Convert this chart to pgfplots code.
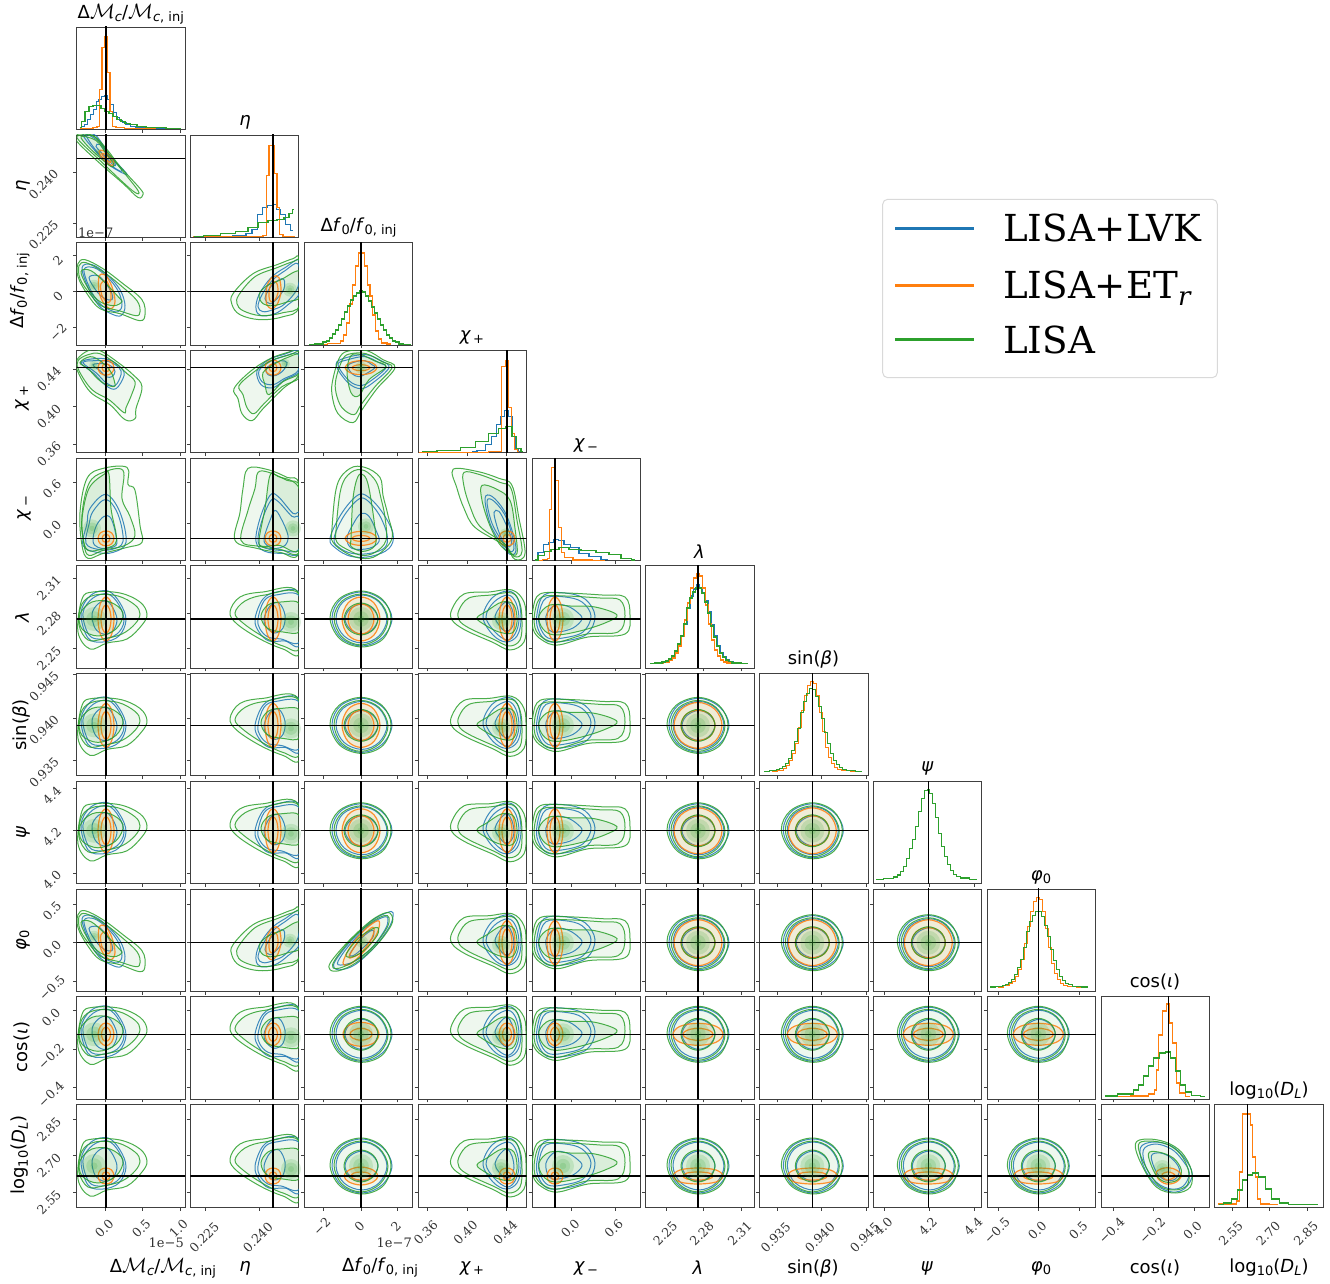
\documentclass[border=0pt]{standalone}
\usepackage{fontspec}
\setmainfont{DejaVu Sans}
\newfontfamily\serf{DejaVu Serif}
\usepackage{pgfplots}
\pgfplotsset{compat=1.18}
\definecolor{cb}{HTML}{1F77B4}
\definecolor{co}{HTML}{FF7F0E}
\definecolor{cg}{HTML}{2CA02C}
\DeclareMathSizes{18}{20}{13}{10}
\newcommand\sub[1]{\raisebox{-3pt}{\fontsize{13}{13}\selectfont #1}}

% every panel is in pixels of the reference, measured from the injected value (the black cross)
\pgfplotsset{base/.style={anchor=south west, scale only axis, width=108.6pt, height=102.3pt,
  axis line style={black!75,line width=.9pt}, every tick/.style={black!75,line width=.8pt},
  tick align=outside, major tick length=3.5pt, xtick pos=lower, ytick pos=left,
  minor tick num=0, scaled ticks=false, no markers,
  tick label style={font=\serf\fontsize{12.5}{13}\selectfont, text=black!80}},
  ln/.style={line width=1pt, smooth cycle, tension=.6, opacity=.85},
  hs/.style={line width=1.3pt, const plot mark mid},
  fl/.style={draw=none, smooth cycle, tension=.6, fill=cg},
  blob/.style={only marks, mark=*, mark size=#1, mark options={draw=cg,draw opacity=0,fill=cg,fill opacity=.16}}}

% column: left edge, limits, ticks, labels, label drop
\newcommand\loadcol[1]{\ifcase#1
 \def\xl{76.5}\def\xa{-29.5}\def\xb{79.1}\def\xt{-0.3,36.7,74}\def\xtl{0.0,0.5,1.0}\def\xs{18}\or
 \def\xl{190.3}\def\xa{-82.7}\def\xb{25.9}\def\xt{-67.3,-13.7}\def\xtl{0.225,0.240}\def\xs{27}\or
 \def\xl{304.3}\def\xa{-56.7}\def\xb{51.9}\def\xt{-37.7,0,36.3}\def\xtl{−2,0,2}\def\xs{16}\or
 \def\xl{418}\def\xa{-89}\def\xb{19.6}\def\xt{-79.7,-40,-0.3}\def\xtl{0.36,0.40,0.44}\def\xs{22}\or
 \def\xl{532}\def\xa{-23}\def\xb{85.6}\def\xt{16.7,60.3}\def\xtl{0.0,0.6}\def\xs{18}\or
 \def\xl{645.7}\def\xa{-52.3}\def\xb{56.3}\def\xt{-31.3,5.3,43.3}\def\xtl{2.25,2.28,2.31}\def\xs{23}\or
 \def\xl{759.7}\def\xa{-52.6}\def\xb{56}\def\xt{-35.3,9,54}\def\xtl{0.935,0.940,0.945}\def\xs{27}\or
 \def\xl{873.3}\def\xa{-55}\def\xb{53.6}\def\xt{-43.6,1,46.4}\def\xtl{4.0,4.2,4.4}\def\xs{16}\or
 \def\xl{987.3}\def\xa{-51}\def\xb{57.6}\def\xt{-40,0.4,41.4}\def\xtl{−0.5,0.0,0.5}\def\xs{20}\or
 \def\xl{1101}\def\xa{-67.3}\def\xb{41.3}\def\xt{-55.3,-14.6,25.7}\def\xtl{−0.4,−0.2,0.0}\def\xs{20}\or
 \def\xl{1214.7}\def\xa{-33}\def\xb{75.6}\def\xt{-15.4,22,59.6}\def\xtl{2.55,2.70,2.85}\def\xs{23}\fi}
% row: bottom edge, limits, ticks, labels, label shifts, height of the horizontal line
\newcommand\loadrow[1]{\ifcase#1
 \def\yb{1153.7}\or
 \def\yb{1045.7}\def\ya{-78.8}\def\yz{23.5}\def\yt{-64.6,-14}\def\ytl{0.225,0.240}\def\yx{-29.5}\def\yy{-12}\def\tl{0}\or
 \def\yb{938}\def\ya{-53.3}\def\yz{49}\def\yt{-35.6,0,36}\def\ytl{−2,0,2}\def\yx{-15}\def\yy{-5}\def\tl{0}\or
 \def\yb{830.3}\def\ya{-85}\def\yz{17.3}\def\yt{-76.3,-39,-1.3}\def\ytl{0.36,0.40,0.44}\def\yx{-24}\def\yy{-10}\def\tl{0}\or
 \def\yb{722.3}\def\ya{-22.3}\def\yz{80}\def\yt{15.3,56.3}\def\ytl{0.0,0.6}\def\yx{-21}\def\yy{-7}\def\tl{0}\or
 \def\yb{615}\def\ya{-49}\def\yz{53.3}\def\yt{-29.6,5.7,41}\def\ytl{2.25,2.28,2.31}\def\yx{-24}\def\yy{-10}\def\tl{0}\or
 \def\yb{507.3}\def\ya{-50.3}\def\yz{52}\def\yt{-35.3,7.3,51}\def\ytl{0.935,0.940,0.945}\def\yx{-29}\def\yy{-12}\def\tl{0}\or
 \def\yb{399.5}\def\ya{-52.7}\def\yz{49.6}\def\yt{-42.3,0.7,42.3}\def\ytl{4.0,4.2,4.4}\def\yx{-21}\def\yy{-7}\def\tl{0}\or
 \def\yb{291.7}\def\ya{-48.6}\def\yz{53.7}\def\yt{-38.3,0,38.7}\def\ytl{−0.5,0.0,0.5}\def\yx{-21}\def\yy{-7}\def\tl{0}\or
 \def\yb{184}\def\ya{-64.7}\def\yz{37.6}\def\yt{-53,-15,23.6}\def\ytl{−0.4,−0.2,0.0}\def\yx{-22}\def\yy{-7}\def\tl{0}\or
 \def\yb{76}\def\ya{-41}\def\yz{61.3}\def\yt{-26,10.4,46.4}\def\ytl{2.55,2.70,2.85}\def\yx{-24}\def\yy{-10}\def\tl{-10}\fi}

% contours: green outer, middle, inner, blue outer, middle, inner, density peak, peak radius
\def\gCC{{(-31,1)(-22,20)(0,28)(21,20)(30,1)(22,-20)(1,-28)(-21,-20)}{(-27,1)(-19,18)(0,25)(18,18)(27,0)(19,-18)(0,-26)(-19,-18)}{(-17,0)(-12,11)(0,16)(12,11)(17,0)(12,-11)(0,-16)(-12,-11)}{(-29,1)(-20,20)(2,27)(22,18)(31,0)(21,-19)(1,-27)(-20,-19)}{(-25,0)(-18,17)(1,24)(18,17)(26,0)(18,-17)(1,-24)(-17,-17)}{(-16,0)(-11,10)(1,15)(12,10)(17,0)(11,-11)(0,-15)(-11,-10)}{(0,0)}{12}}
\def\gCMc{{(-28,-13)(-24,20)(-13,27)(14,26)(34,17)(41,5)(36,-6)(21,-20)(1,-24)(-16,-30)}{(-27,-6)(-24,15)(-11,24)(12,23)(29,14)(34,5)(29,-5)(16,-15)(-3,-20)(-18,-21)}{(-26,5)(-14,17)(4,17)(17,6)(10,-10)(-8,-17)(-24,-10)}{(-25,6)(-15,24)(2,28)(14,16)(20,-1)(13,-17)(-3,-23)(-18,-19)}{(-23,6)(-13,21)(2,25)(13,14)(18,-2)(11,-15)(-4,-20)(-17,-16)}{(-14,5)(-8,15)(1,18)(8,9)(11,-2)(6,-13)(-3,-15)(-11,-9)}{(-12,0)}{12}}
\def\gCE{{(-43,7)(-33,22)(-10,27)(25,27)(27,-33)(10,-30)(-13,-20)(-36,-5)}{(-38,6)(-28,18)(-8,24)(26,25)(27,-28)(10,-27)(-11,-17)(-30,-4)}{(-12,3)(-5,14)(8,17)(27,15)(27,-12)(10,-13)(-6,-9)}{(-18,0)(-10,20)(4,27)(27,25)(27,-25)(12,-22)(-4,-22)(-14,-13)}{(-15,0)(-9,18)(3,24)(27,22)(27,-22)(8,-20)(-5,-18)(-13,-10)}{(-9,0)(-3,13)(6,16)(12,4)(10,-9)(2,-14)(-6,-9)}{(18,-3)}{10}}
\def\gCP{{(-55,10)(-43,25)(-18,27)(5,29)(17,17)(19,-3)(17,-23)(3,-31)(-15,-23)(-42,-11)(-55,-1)}{(-48,9)(-38,21)(-16,24)(5,26)(13,15)(15,-3)(13,-21)(2,-27)(-14,-20)(-38,-9)(-48,-1)}{(-30,1)(-20,8)(-5,17)(7,14)(10,-3)(5,-14)(-8,-13)(-22,-6)}{(-24,2)(-15,21)(1,28)(11,20)(14,-1)(10,-17)(-1,-23)(-14,-16)}{(-21,2)(-13,17)(1,24)(9,16)(12,-1)(8,-15)(0,-21)(-12,-13)}{(-12,2)(-7,12)(0,17)(5,10)(7,-2)(4,-10)(-2,-12)(-8,-6)}{(-6,-2)}{9}}
\def\gCM{{(-22,10)(-15,25)(10,26)(47,24)(70,22)(75,4)(70,-15)(33,-18)(3,-26)(-13,-21)(-22,-10)}{(-20,8)(-13,22)(10,23)(45,21)(65,19)(70,3)(63,-13)(32,-15)(3,-23)(-12,-19)(-20,-9)}{(-16,3)(-5,14)(15,13)(40,12)(62,4)(50,-4)(25,-12)(0,-16)(-12,-10)}{(-18,5)(-11,24)(10,26)(30,20)(40,3)(32,-15)(10,-22)(-8,-22)(-17,-10)}{(-16,5)(-9,21)(10,22)(27,17)(36,3)(28,-13)(8,-19)(-7,-19)(-15,-8)}{(-9,3)(0,14)(12,13)(22,7)(27,0)(18,-9)(3,-13)(-6,-11)}{(8,0)}{11}}
\def\gDI{{(-33,22)(-22,27)(-3,24)(13,14)(23,-4)(22,-21)(7,-27)(-12,-21)(-27,2)}{(-30,21)(-20,25)(-2,22)(12,12)(20,-4)(19,-19)(6,-24)(-10,-19)(-24,2)}{(-20,12)(-10,14)(5,8)(13,-4)(9,-14)(-3,-16)(-13,-8)}{(-28,18)(-15,24)(3,20)(16,8)(24,-8)(17,-22)(4,-26)(-12,-19)(-24,-2)}{(-25,16)(-13,22)(3,17)(14,6)(21,-7)(15,-20)(3,-23)(-11,-17)(-22,-2)}{(-17,10)(-8,13)(3,8)(11,-3)(7,-13)(-3,-14)(-12,-6)}{(-6,-3)}{9}}
\def\gPhiF{{(-31,-27)(-30,-19)(-12,2)(10,22)(25,30)(31,27)(30,17)(15,-3)(-5,-20)(-22,-28)}{(-28,-25)(-26,-17)(-10,3)(10,20)(23,27)(28,25)(26,15)(12,-4)(-6,-18)(-20,-25)}{(-15,-12)(-3,4)(10,13)(17,15)(16,7)(4,-7)(-8,-14)}{(-27,-25)(-25,-17)(-9,3)(11,22)(26,30)(32,30)(29,17)(13,-5)(-6,-22)(-20,-27)}{(-23,-22)(-19,-12)(-6,4)(10,19)(24,26)(27,23)(24,13)(10,-6)(-7,-19)}{(-11,-11)(0,4)(10,12)(13,11)(11,4)(0,-7)(-8,-13)}{(1,1)}{6}}
\def\gEMc{{(-29,24)(-29,17)(-6,-5)(17,-25)(32,-39)(37,-36)(34,-30)(14,-8)(1,9)(-13,23)}{(-27,23)(-27,18)(-6,-2)(15,-22)(29,-34)(32,-32)(13,-8)(0,8)(-12,22)}{(-25,22)(-18,12)(-5,0)(5,-8)(8,-6)(0,5)(-10,18)}{(-23,24)(-12,9)(4,-7)(20,-16)(18,-12)(4,3)(-6,18)(-12,24)}{(-20,24)(-10,8)(4,-6)(15,-13)(14,-9)(3,3)(-6,16)}{(-10,12)(0,1)(8,-7)(9,-5)(1,5)(-6,14)}{(-8,6)}{4}}
\def\gFMc{{(-28,28)(-21,32)(-3,23)(17,8)(36,-8)(39,-23)(34,-29)(14,-22)(-6,-17)(-19,-2)(-28,15)}{(-27,26)(-20,29)(-3,20)(15,6)(31,-9)(34,-20)(30,-24)(13,-19)(-5,-14)(-17,-1)(-26,13)}{(-25,20)(-15,21)(0,8)(13,-6)(16,-10)(8,-14)(-6,-10)(-17,2)}{(-24,24)(-14,27)(0,18)(14,2)(19,-14)(15,-24)(5,-22)(-7,-14)(-17,2)}{(-22,22)(-12,24)(1,15)(12,1)(16,-13)(12,-20)(3,-18)(-7,-11)(-16,3)}{(-17,14)(-8,16)(0,8)(6,-2)(6,-8)(-1,-7)(-9,0)}{(-12,6)}{6}}
\def\gFE{{(-41,-13)(-40,-2)(-20,18)(4,27)(20,33)(26,32)(26,-15)(10,-25)(-13,-28)(-33,-23)}{(-36,-12)(-34,-3)(-18,15)(4,24)(20,30)(27,29)(27,-13)(10,-21)(-12,-24)(-30,-19)}{(-14,-3)(-6,6)(8,12)(22,20)(27,18)(27,-5)(15,-10)(0,-14)(-10,-12)}{(-17,-17)(-14,-3)(-2,14)(12,24)(27,31)(27,0)(15,-13)(2,-22)(-12,-24)}{(-15,-15)(-11,-3)(-1,11)(12,21)(25,28)(25,5)(12,-12)(0,-18)(-10,-20)}{(-8,-7)(-3,4)(6,12)(11,12)(11,3)(4,-7)(-3,-12)}{(17,2)}{7}}
\def\gPMc{{(-29,8)(-29,-2)(-16,-24)(4,-37)(19,-52)(29,-51)(30,-41)(36,-19)(27,-7)(11,6)(-6,17)(-18,17)}{(-28,7)(-27,-3)(-14,-22)(3,-32)(18,-45)(20,-40)(26,-26)(29,-14)(20,-5)(10,4)(-6,14)(-18,13)}{(-26,5)(-18,-1)(-5,-14)(8,-19)(8,-12)(4,-3)(-6,7)(-16,11)}{(-25,5)(-12,-6)(0,-18)(10,-21)(18,-8)(15,0)(3,8)(-12,9)}{(-23,5)(-10,-5)(0,-15)(9,-18)(15,-7)(13,0)(3,6)(-11,7)}{(-13,3)(-6,-3)(0,-9)(6,-9)(9,-4)(6,1)(-2,4)}{(-12,2)}{5}}
\def\gPE{{(-39,-21)(-23,-4)(-3,9)(17,16)(26,18)(26,-7)(10,-21)(-10,-41)(-21,-53)(-31,-46)(-35,-31)}{(-34,-18)(-20,-5)(-2,7)(17,13)(27,15)(27,-9)(9,-19)(-9,-36)(-19,-46)(-26,-40)(-30,-27)}{(-10,-5)(2,4)(14,10)(27,13)(27,-5)(10,-14)(-4,-27)(-8,-17)}{(-16,-3)(-4,8)(10,13)(27,17)(27,-3)(12,-12)(0,-20)(-12,-17)}{(-14,-3)(-3,6)(10,11)(25,14)(25,-3)(11,-11)(0,-17)(-11,-14)}{(-7,-1)(0,4)(8,7)(14,5)(10,-3)(2,-8)(-5,-7)}{(12,4)}{5}}
\def\gPF{{(-28,-11)(-21,11)(-11,17)(6,17)(22,8)(34,0)(16,-21)(1,-42)(-8,-55)(-23,-46)(-29,-27)}{(-25,-11)(-18,9)(-10,14)(5,14)(21,6)(31,0)(14,-19)(0,-37)(-7,-47)(-19,-40)(-25,-25)}{(-14,-4)(-10,12)(0,13)(13,7)(25,1)(8,-12)(-2,-28)(-10,-25)}{(-25,3)(-15,10)(5,13)(20,7)(28,0)(12,-15)(0,-21)(-13,-15)}{(-23,3)(-13,8)(4,11)(18,5)(25,0)(10,-13)(0,-18)(-12,-13)}{(-13,2)(-5,6)(4,7)(11,3)(14,0)(5,-6)(-2,-9)(-9,-6)}{(0,0)}{6}}
\def\gMMc{{(-26,26)(-19,60)(-3,70)(21,71)(22,54)(29,48)(34,13)(36,-4)(21,-9)(-3,-15)(-18,-20)(-24,-7)}{(-24,24)(-17,55)(-3,66)(17,68)(16,40)(24,22)(29,3)(19,-7)(-3,-12)(-17,-17)(-22,-6)}{(-24,20)(-17,50)(-2,64)(3,64)(5,30)(10,5)(9,-6)(-5,-11)(-18,-12)(-23,0)}{(-23,-7)(-19,15)(-16,30)(0,44)(14,26)(20,-4)(7,-14)(-9,-14)}{(-20,-5)(-17,14)(-13,27)(0,39)(12,24)(17,-3)(6,-11)(-8,-11)}{(-13,-3)(-10,12)(-2,22)(5,20)(10,3)(10,-7)(0,-10)(-8,-9)}{(-14,10)}{9}}
\def\gME{{(-38,-2)(-33,26)(-30,50)(-25,70)(-6,69)(14,61)(26,53)(26,-14)(7,-14)(-16,-10)}{(-32,-2)(-25,28)(-18,50)(-15,66)(-4,66)(14,58)(27,50)(27,-12)(7,-11)(-14,-8)}{(-14,-2)(-8,30)(-3,63)(5,62)(27,48)(27,-10)(6,-7)(-10,-8)}{(-17,-3)(-13,20)(-3,43)(5,42)(20,25)(27,24)(27,-14)(10,-15)(-8,-13)}{(-15,-3)(-11,18)(-2,38)(5,37)(19,22)(26,20)(26,-11)(9,-12)(-7,-10)}{(-9,0)(-3,18)(2,28)(8,20)(15,3)(12,-7)(2,-10)(-6,-7)}{(20,10)}{8}}
\def\gMF{{(-29,10)(-24,53)(-11,70)(4,71)(19,61)(22,43)(27,23)(31,0)(16,-17)(1,-20)(-14,-15)(-28,-4)}{(-25,8)(-20,50)(-10,66)(3,68)(15,57)(20,40)(24,21)(25,-2)(14,-14)(1,-17)(-12,-12)(-24,-4)}{(-10,0)(-8,40)(-3,62)(3,63)(8,50)(14,10)(14,-7)(2,-13)(-10,-8)}{(-31,0)(-20,24)(-5,42)(5,43)(20,28)(32,5)(28,-10)(10,-18)(-10,-18)(-25,-10)}{(-27,0)(-18,21)(-4,38)(5,39)(18,24)(26,4)(24,-9)(9,-15)(-9,-15)(-22,-9)}{(-14,0)(-8,14)(0,25)(8,22)(15,8)(18,-3)(8,-10)(-9,-10)}{(5,12)}{8}}
\def\gMP{{(-54,69)(-30,67)(-8,60)(5,53)(12,20)(18,-15)(8,-21)(-3,-7)(-32,11)(-43,30)(-50,50)}{(-43,66)(-28,64)(-7,56)(4,50)(10,18)(15,-13)(7,-18)(-3,-5)(-27,12)(-37,32)(-43,52)}{(-25,53)(-10,49)(3,38)(8,10)(10,-15)(2,-14)(-8,-5)(-18,15)(-25,38)}{(-22,40)(-15,42)(-3,28)(5,8)(9,-12)(3,-16)(-6,-5)(-17,15)}{(-20,37)(-14,38)(-3,25)(4,7)(7,-10)(2,-13)(-5,-3)(-15,15)}{(-13,26)(-8,27)(-1,14)(4,1)(4,-7)(0,-8)(-5,-1)(-10,12)}{(-2,5)}{5}}

% orange: outer, inner
\def\oSS{{(-8,0)(-5.6,5.5)(0,7.5)(5.6,5.5)(8,0)(5.6,-5.5)(0,-7.5)(-5.6,-5.5)}{(-4,0)(-2.8,3)(0,4)(2.8,3)(4,0)(2.8,-3)(0,-4)(-2.8,-3)}}
\def\oLS{{(-16,0)(-11,5)(0,7)(11,5)(16,0)(11,-5)(0,-7)(-11,-5)}{(-9,0)(-6,2.2)(0,3)(6,2.2)(9,0)(6,-2.2)(0,-3)(-6,-2.2)}}
\def\oST{{(-8,0)(-5.6,15.5)(0,22)(5.6,15.5)(8,0)(5.6,-15.5)(0,-22)(-5.6,-15.5)}{(-5,0)(-3.5,10)(0,14)(3.5,10)(5,0)(3.5,-10)(0,-14)(-3.5,-10)}}
\def\oFT{{(-19,0)(-13,16)(0,22)(13,16)(19,0)(13,-16)(0,-22)(-13,-16)}{(-13,0)(-9,11)(0,15)(9,11)(13,0)(9,-11)(0,-15)(-9,-11)}}
\def\oCT{{(-24,0)(-17,16)(0,23)(17,16)(24,0)(17,-16)(0,-23)(-17,-16)}{(-17,0)(-12,11)(0,15)(12,11)(17,0)(12,-11)(0,-15)(-12,-11)}}
\def\oSI{{(-8,0)(-5.6,8)(0,11.5)(5.6,8)(8,0)(5.6,-8)(0,-11.5)(-5.6,-8)}{(-4.5,0)(-3.2,5)(0,7)(3.2,5)(4.5,0)(3.2,-5)(0,-7)(-3.2,-5)}}
\def\oFI{{(-18,0)(-13,8.5)(0,12)(13,8.5)(18,0)(13,-8.5)(0,-12)(-13,-8.5)}{(-11,0)(-8,4)(0,6)(8,4)(11,0)(8,-4)(0,-6)(-8,-4)}}
\def\oCI{{(-25,0)(-18,8)(0,11)(18,8)(25,0)(18,-8)(0,-11)(-18,-8)}{(-15,0)(-11,4)(0,6)(11,4)(15,0)(11,-4)(0,-6)(-11,-4)}}
\def\oSD{{(-8,-10)(-5.6,-4)(0,-2)(5.6,-4)(8,-10)(5.6,-16)(0,-18)(-5.6,-16)}{(-4,-10)(-2.8,-7)(0,-6)(2.8,-7)(4,-10)(2.8,-13)(0,-14)(-2.8,-13)}}
\def\oFD{{(-17,-10)(-12,-4)(0,-1)(12,-4)(17,-10)(12,-16)(0,-19)(-12,-16)}{(-10,-10)(-7,-7)(0,-6)(7,-7)(10,-10)(7,-13)(0,-14)(-7,-13)}}
\def\oCD{{(-25,-10)(-18,-4)(0,-2)(18,-4)(25,-10)(18,-16)(0,-18)(-18,-16)}{(-15,-10)(-11,-7)(0,-6)(11,-7)(15,-10)(11,-13)(0,-14)(-11,-13)}}
\def\oDI{{(-12,-6)(-4,-2)(6,-3)(13,-9)(8,-16)(-2,-18)(-10,-13)}{(-6,-8)(-1,-6)(4,-7)(7,-10)(3,-13)(-2,-14)(-5,-12)}}
\def\oPhi{{(-18,-20)(-10,-3)(5,14)(17,22)(18,15)(12,2)(-2,-14)(-12,-22)}{(-12,-14)(-3,1)(8,13)(13,15)(11,5)(2,-8)(-7,-14)}}
\def\oEMc{{(-7,7)(-3,-1)(5,-7)(8,-4)(4,3)(-3,8)}{(-4,4)(0,-1)(4,-4)(5,-2)(1,3)(-3,5)}}
\def\oFMc{{(-7,15)(-1,17)(6,5)(9,-10)(5,-17)(-2,-12)(-7,0)}{(-5,8)(0,11)(4,3)(5,-7)(2,-11)(-3,-6)(-5,0)}}
\def\oFE{{(-7,-7)(-6,6)(0,15)(6,14)(8,0)(4,-13)(-2,-17)(-6,-13)}{(-4,-5)(-3,5)(1,10)(4,8)(5,-1)(2,-8)(-2,-10)}}

% histograms (blue, orange, green); height in pixels above the frame
\def\GA{(-48,4.3)(-38,5)(-34,6)(-31,7)(-28,9)(-25,12)(-22,17)(-19,24)(-16,32)(-13,44)(-10,60)(-7,70)(-4,76)(-1,80)(2,80)(5,75)(8,66)(11,55)(14,42)(17,31)(20,22)(23,15)(26,11)(29,8)(32,6.5)(36,5)(50,4.3)}
\def\GAb{(-47,4.3)(-37,5)(-33,6)(-30,7)(-27,9)(-24,12)(-21,17)(-18,24)(-15,32)(-12,44)(-9,60)(-6,72)(-3,79)(0,83)(3,80)(6,75)(9,67)(12,56)(15,43)(18,32)(21,22)(24,15)(27,11)(30,8)(33,6.5)(37,5)(50,4.3)}
\def\GB{(-48,4.3)(-38,5)(-34,6)(-31,7)(-28,9)(-25,12)(-22,17)(-19,25)(-16,34)(-13,47)(-10,63)(-7,74)(-4,82)(-1,87)(2,86)(5,79)(8,69)(11,57)(14,43)(17,32)(20,22)(23,15)(26,11)(29,8)(32,6.5)(36,5)(50,4.3)}
\def\OA{(-40,4.3)(-30,5.5)(-27,7.5)(-24,10)(-21,15)(-18,22)(-15,32)(-12,48)(-9,65)(-6,80)(-3,90)(0,94)(3,92)(6,80)(9,63)(12,44)(15,28)(18,18)(21,12)(24,8)(27,6)(31,5)(45,4.3)}
\def\OB{(-52,4)(-38,5)(-32,6.5)(-29,8.5)(-26,12)(-23,17)(-20,25)(-17,35)(-14,44)(-11,57)(-8,72)(-5,85)(-2,93)(0,94)(3,90)(6,80)(9,66)(12,50)(15,37)(18,27)(21,19)(24,13)(27,9)(30,7)(34,5.5)(49,4)}
\def\hMc{{(-26,1)(-23,3)(-20,5)(-17,10)(-14,15)(-11,20)(-8,28)(-6,30)(-3,33)(0,34)(3,30)(6,25)(9,17)(12,12)(15,9)(18,7)(22,5)(27,3)(33,2)(45,1)(75,0.5)}{(-26,0.5)(-16,1)(-10,1.5)(-8,3)(-5.5,40)(-2.7,82)(0,93)(2.7,57)(5.5,18)(8,3)(12,1.5)(25,1)(50,0.7)}{(-26,2)(-23,8)(-19,18)(-15,23)(-11,23.5)(-7,23.5)(-3,21)(1,18)(5,16)(9,13)(13,10)(17,7.5)(21,6)(27,4.5)(35,3)(45,2)(55,1.5)(65,1)(75,0.5)}}
\def\hE{{(-80,0.7)(-50,1)(-30,2)(-24,4)(-18,8)(-13,23)(-8,30)(-3,32)(2,33)(5,28)(10,23)(15,13)(20,7)}{(-80,0.5)(-22,0.7)(-12,1)(-8,1.5)(-5.5,62)(-2.7,92)(0,92)(2.7,64)(5.4,30)(8,3)(12,1)(22,0.7)}{(-79,1)(-60,1.5)(-45,3.5)(-30,6)(-20,10)(-10,15)(0,17)(8,18)(14,20)(18,24)(21,28)}}
\def\GF{(-52,0.5)(-40,1)(-36,3)(-33,4)(-30,7)(-27,11)(-24,15)(-21,20)(-18,26)(-15,33)(-12,39)(-9,45)(-6,49)(-3,52)(0,54)(3,53)(6,49)(9,44)(12,38)(15,32)(18,26)(21,20)(24,15)(27,10)(30,7)(33,4)(36,3)(40,1)(45,0.5)(50,0.5)}
\edef\hF{{\GF}{(-45,0.5)(-22,1.5)(-19,4)(-16,10)(-13,22)(-10.5,41)(-7,60)(-4,79)(-1,92)(2,92)(5,79)(8,60)(10,49)(13,30)(16,14)(19,6)(22,2)(30,1)}{\GF}}
\def\hP{{(-35,1)(-25,2)(-18,8)(-13,16)(-8,28)(-4,36)(-1,42)(3,36)(7,16)(10,4)(13,1)}{(-88,0.5)(-30,0.5)(-7,1.5)(-3.5,86)(0,92)(3.5,45)(6,19)(9,3)(12,1)}{(-85,1)(-55,2)(-38,5)(-25,11)(-12,19)(-5,24)(3,26)(7,16)(12,4)(16,1)}}
\def\hM{{(-20,1)(-14,8)(-9,16)(-4,18)(1,21)(6,20)(12,16)(19,13)(29,7)(39,4)(53,1)}{(-16,0.5)(-9,1)(-6,2)(-4.5,51)(-2,93)(2,80)(5,33)(8.5,8)(11,3)(25,0.7)(50,0.5)}{(-20,0.7)(-14,5)(-7,9)(-1,11)(9,13)(19,11)(33,10)(49,8)(59,6)(73,2)(80,0.7)}}
\edef\hL{{\GAb}{\OA}{\GA}}
\edef\hS{{\GB}{\OA}{\GB}}
\edef\hH{{\OB}{\OB}{\OB}}
\edef\hR{{\GA}{\OA}{\GA}}
\def\GI{(-63,3)(-38,5)(-32,9)(-27,14)(-22,23)(-17,33)(-12,41)(-5,46)(0,47)(5,41)(10,28)(15,14)(20,7)(27,3.3)(37,2.7)}
\edef\hI{{\GI}{(-50,2.7)(-25,3)(-15,5)(-13,9)(-11,29)(-8,64)(-4,88)(0,95)(3,76)(6,56)(10,16)(13,6)(22,2.7)}{\GI}}
\def\GD{(-29,2.7)(-19,4)(-13,8)(-8,17)(-3,27)(2,32)(8,34)(14,30)(21,18)(27,8)(36,4)(46,2.7)(70,2.5)}
\edef\hD{{\GD}{(-30,3)(-12,3)(-10,6)(-7,35)(-3,93)(1,93)(4,82)(6,50)(9,30)(11,8)(14,3)(30,2.7)}{\GD}}

\newcommand\orange[2]{%
 \addplot[co,fl,fill=co,fill opacity=.1] coordinates {#1};
 \addplot[co,ln,line width=1.2pt] coordinates {#1};
 \addplot[co,ln,line width=1.2pt] coordinates {#2};}
\newcommand\cont[8]{%
 \addplot[fl,fill opacity=.03] coordinates {#1};
 \addplot[fl,fill opacity=.05] coordinates {#2};
 \addplot[fl,fill opacity=.10] coordinates {#3};
 \addplot[blob=#8pt] coordinates {#7};
 \addplot[blob=#8*0.65pt] coordinates {#7};
 \addplot[blob=#8*0.3pt] coordinates {#7};
 \addplot[cb,ln] coordinates {#4};
 \addplot[cb,ln] coordinates {#5};
 \addplot[cb,ln] coordinates {#6};
 \expandafter\orange\curO
 \addplot[cg,ln] coordinates {#1};
 \addplot[cg,ln] coordinates {#2};
 \addplot[cg,ln] coordinates {#3};}
\newcommand\panel[4]{% column, row, contours, orange
 \loadcol{#1}\loadrow{#2}\expandafter\def\expandafter\curO\expandafter{#4}%
 \ifnum#2=10 \pgfplotsset{labx/.style={xticklabels/.expand once=\xtl,
   xticklabel style={xshift=-1.5pt,yshift=-\xs pt,rotate=45,anchor=center}}}%
 \else\pgfplotsset{labx/.style={xticklabels={}}}\fi
 \ifnum#1=0 \pgfplotsset{laby/.style={yticklabels/.expand once=\ytl,
   yticklabel style={xshift=\yx pt,yshift=\yy pt,rotate=45,anchor=center}}}%
 \else\pgfplotsset{laby/.style={yticklabels={}}}\fi
 \begin{axis}[base,at={(\xl pt,\yb pt)},xmin=\xa,xmax=\xb,ymin=\ya,ymax=\yz,
   xtick=\xt,ytick=\yt,labx,laby]
 \expandafter\cont#3
 \addplot[black,line width=1.3pt,sharp plot] coordinates {(0,-200)(0,200)};
 \addplot[black,line width=1.3pt,sharp plot] coordinates {(-200,\tl)(200,\tl)};
 \end{axis}}
\newcommand\hists[3]{%
 \addplot[cb,hs] coordinates {#1};
 \addplot[co,hs] coordinates {#2};
 \addplot[cg,hs] coordinates {#3};}
\newcommand\diag[2]{% index, histograms
 \loadcol{#1}\loadrow{#1}%
 \ifnum#1=10 \pgfplotsset{labx/.style={xticklabels/.expand once=\xtl,
   xticklabel style={xshift=-1.5pt,yshift=-\xs pt,rotate=45,anchor=center}}}%
 \else\pgfplotsset{labx/.style={xticklabels={}}}\fi
 \begin{axis}[base,at={(\xl pt,\yb pt)},xmin=\xa,xmax=\xb,ymin=0,ymax=102.3,
   xtick=\xt,ytick=\empty,labx]
 \expandafter\hists#2
 \addplot[black,line width=1.3pt,sharp plot] coordinates {(0,-200)(0,200)};
 \end{axis}}
\newcommand\T[3]{\node[inner sep=0pt,font=\fontsize{18}{20}\selectfont] at (#1pt,#2pt) {#3};}
\newcommand\Y[3]{\node[inner sep=0pt,rotate=90,font=\fontsize{18}{20}\selectfont] at (#1pt,#2pt) {#3};}
\def\lMc{Δ$\mathcal{M}$\sub{\textit{c}}/$\mathcal{M}$\sub{\textit{c}, inj}}
\def\lE{\textit{η}}
\def\lF{Δ\textit{f}\sub{0}/\textit{f}\sub{0, inj}}
\def\lP{\textit{χ}\kern2pt\sub{+}}
\def\lM{\textit{χ}\kern2pt\sub{−}}
\def\lL{\textit{λ}}
\def\lS{sin(\textit{β})}
\def\lH{\textit{ψ}}
\def\lV{\textit{φ}\sub{0}}
\def\lI{cos(\textit{ι})}
\def\lD{log\sub{10}(\textit{D}\sub{\textit{L}})}

\begin{document}
\begin{tikzpicture}[x=1pt,y=1pt]
\useasboundingbox (0,0) rectangle (1330,1283);
\diag{0}{\hMc}\diag{1}{\hE}\diag{2}{\hF}\diag{3}{\hP}\diag{4}{\hM}\diag{5}{\hL}
\diag{6}{\hS}\diag{7}{\hH}\diag{8}{\hR}\diag{9}{\hI}\diag{10}{\hD}
\panel{0}{1}{\gEMc}{\oEMc}
\panel{0}{2}{\gFMc}{\oFMc}\panel{1}{2}{\gFE}{\oFE}
\panel{0}{3}{\gPMc}{\oSS}\panel{1}{3}{\gPE}{\oSS}\panel{2}{3}{\gPF}{\oLS}
\panel{0}{4}{\gMMc}{\oSS}\panel{1}{4}{\gME}{\oSS}\panel{2}{4}{\gMF}{\oLS}\panel{3}{4}{\gMP}{\oSS}
\panel{0}{5}{\gCMc}{\oST}\panel{1}{5}{\gCE}{\oST}\panel{2}{5}{\gCC}{\oFT}\panel{3}{5}{\gCP}{\oST}\panel{4}{5}{\gCM}{\oST}
\panel{0}{6}{\gCMc}{\oST}\panel{1}{6}{\gCE}{\oST}\panel{2}{6}{\gCC}{\oFT}\panel{3}{6}{\gCP}{\oST}\panel{4}{6}{\gCM}{\oST}\panel{5}{6}{\gCC}{\oCT}
\panel{0}{7}{\gCMc}{\oST}\panel{1}{7}{\gCE}{\oST}\panel{2}{7}{\gCC}{\oFT}\panel{3}{7}{\gCP}{\oST}\panel{4}{7}{\gCM}{\oST}\panel{5}{7}{\gCC}{\oCT}\panel{6}{7}{\gCC}{\oCT}
\panel{0}{8}{\gFMc}{\oFMc}\panel{1}{8}{\gFE}{\oFE}\panel{2}{8}{\gPhiF}{\oPhi}\panel{3}{8}{\gCP}{\oST}\panel{4}{8}{\gCM}{\oST}\panel{5}{8}{\gCC}{\oCT}\panel{6}{8}{\gCC}{\oCT}\panel{7}{8}{\gCC}{\oCT}
\panel{0}{9}{\gCMc}{\oSI}\panel{1}{9}{\gCE}{\oSI}\panel{2}{9}{\gCC}{\oFI}\panel{3}{9}{\gCP}{\oSI}\panel{4}{9}{\gCM}{\oSI}\panel{5}{9}{\gCC}{\oCI}\panel{6}{9}{\gCC}{\oCI}\panel{7}{9}{\gCC}{\oCI}\panel{8}{9}{\gCC}{\oCI}
\panel{0}{10}{\gCMc}{\oSD}\panel{1}{10}{\gCE}{\oSD}\panel{2}{10}{\gCC}{\oFD}\panel{3}{10}{\gCP}{\oSD}\panel{4}{10}{\gCM}{\oSD}\panel{5}{10}{\gCC}{\oCD}\panel{6}{10}{\gCC}{\oCD}\panel{7}{10}{\gCC}{\oCD}\panel{8}{10}{\gCC}{\oCD}\panel{9}{10}{\gDI}{\oDI}
% titles over the diagonal
\T{130.8}{1269}{\lMc}\T{245}{1161}{\lE}\T{358.6}{1055}{\lF}\T{472}{946}{\lP}\T{586}{838}{\lM}\T{699.5}{731}{\lL}
\T{813.5}{624}{\lS}\T{927.5}{515}{\lH}\T{1041}{406}{\lV}\T{1155}{301}{\lI}\T{1269}{192}{\lD}
% bottom labels
\T{163}{15}{\lMc}\T{245}{15}{\lE}\T{380}{15}{\lF}\T{472}{15}{\lP}\T{586}{15}{\lM}\T{698}{15}{\lL}
\T{813}{15}{\lS}\T{927}{15}{\lH}\T{1041}{15}{\lV}\T{1155}{15}{\lI}\T{1269}{15}{\lD}
% left labels
\Y{23}{1097}{\lE}\Y{20}{992}{\lF}\Y{22}{885}{\lP}\Y{24}{775}{\lM}\Y{22}{666}{\lL}
\Y{21}{558}{\lS}\Y{23}{451}{\lH}\Y{23}{343}{\lV}\Y{22}{236}{\lI}\Y{20}{128}{\lD}
% offset texts
\node[anchor=east,inner sep=0pt,font=\serf\fontsize{13}{14}\selectfont,text=black!80] at (184,40) {1e−5};
\node[anchor=east,inner sep=0pt,font=\serf\fontsize{13}{14}\selectfont,text=black!80] at (412,40) {1e−7};
\node[anchor=west,inner sep=0pt,font=\serf\fontsize{13}{14}\selectfont,text=black!80] at (78,1050) {1e−7};
% legend
\draw[black!15,line width=1pt,fill=white,rounded corners=5pt] (882.7,905.3) rectangle (1217.3,1083.7);
\draw[cb,line width=3pt] (895,1054)--(974,1054);
\draw[co,line width=3pt] (895,997)--(974,997);
\draw[cg,line width=3pt] (895,943)--(974,943);
\node[anchor=base west,inner sep=0pt,font=\serf\fontsize{37.2}{40}\selectfont] at (1003,1041.3) {LISA+LVK};
\node[anchor=base west,inner sep=0pt,font=\serf\fontsize{37.2}{40}\selectfont] at (1003,984) {LISA+ET\raisebox{-7pt}{\fontsize{26}{26}\selectfont\itshape r}};
\node[anchor=base west,inner sep=0pt,font=\serf\fontsize{37.2}{40}\selectfont] at (1003,929.7) {LISA};
\end{tikzpicture}
\end{document}
